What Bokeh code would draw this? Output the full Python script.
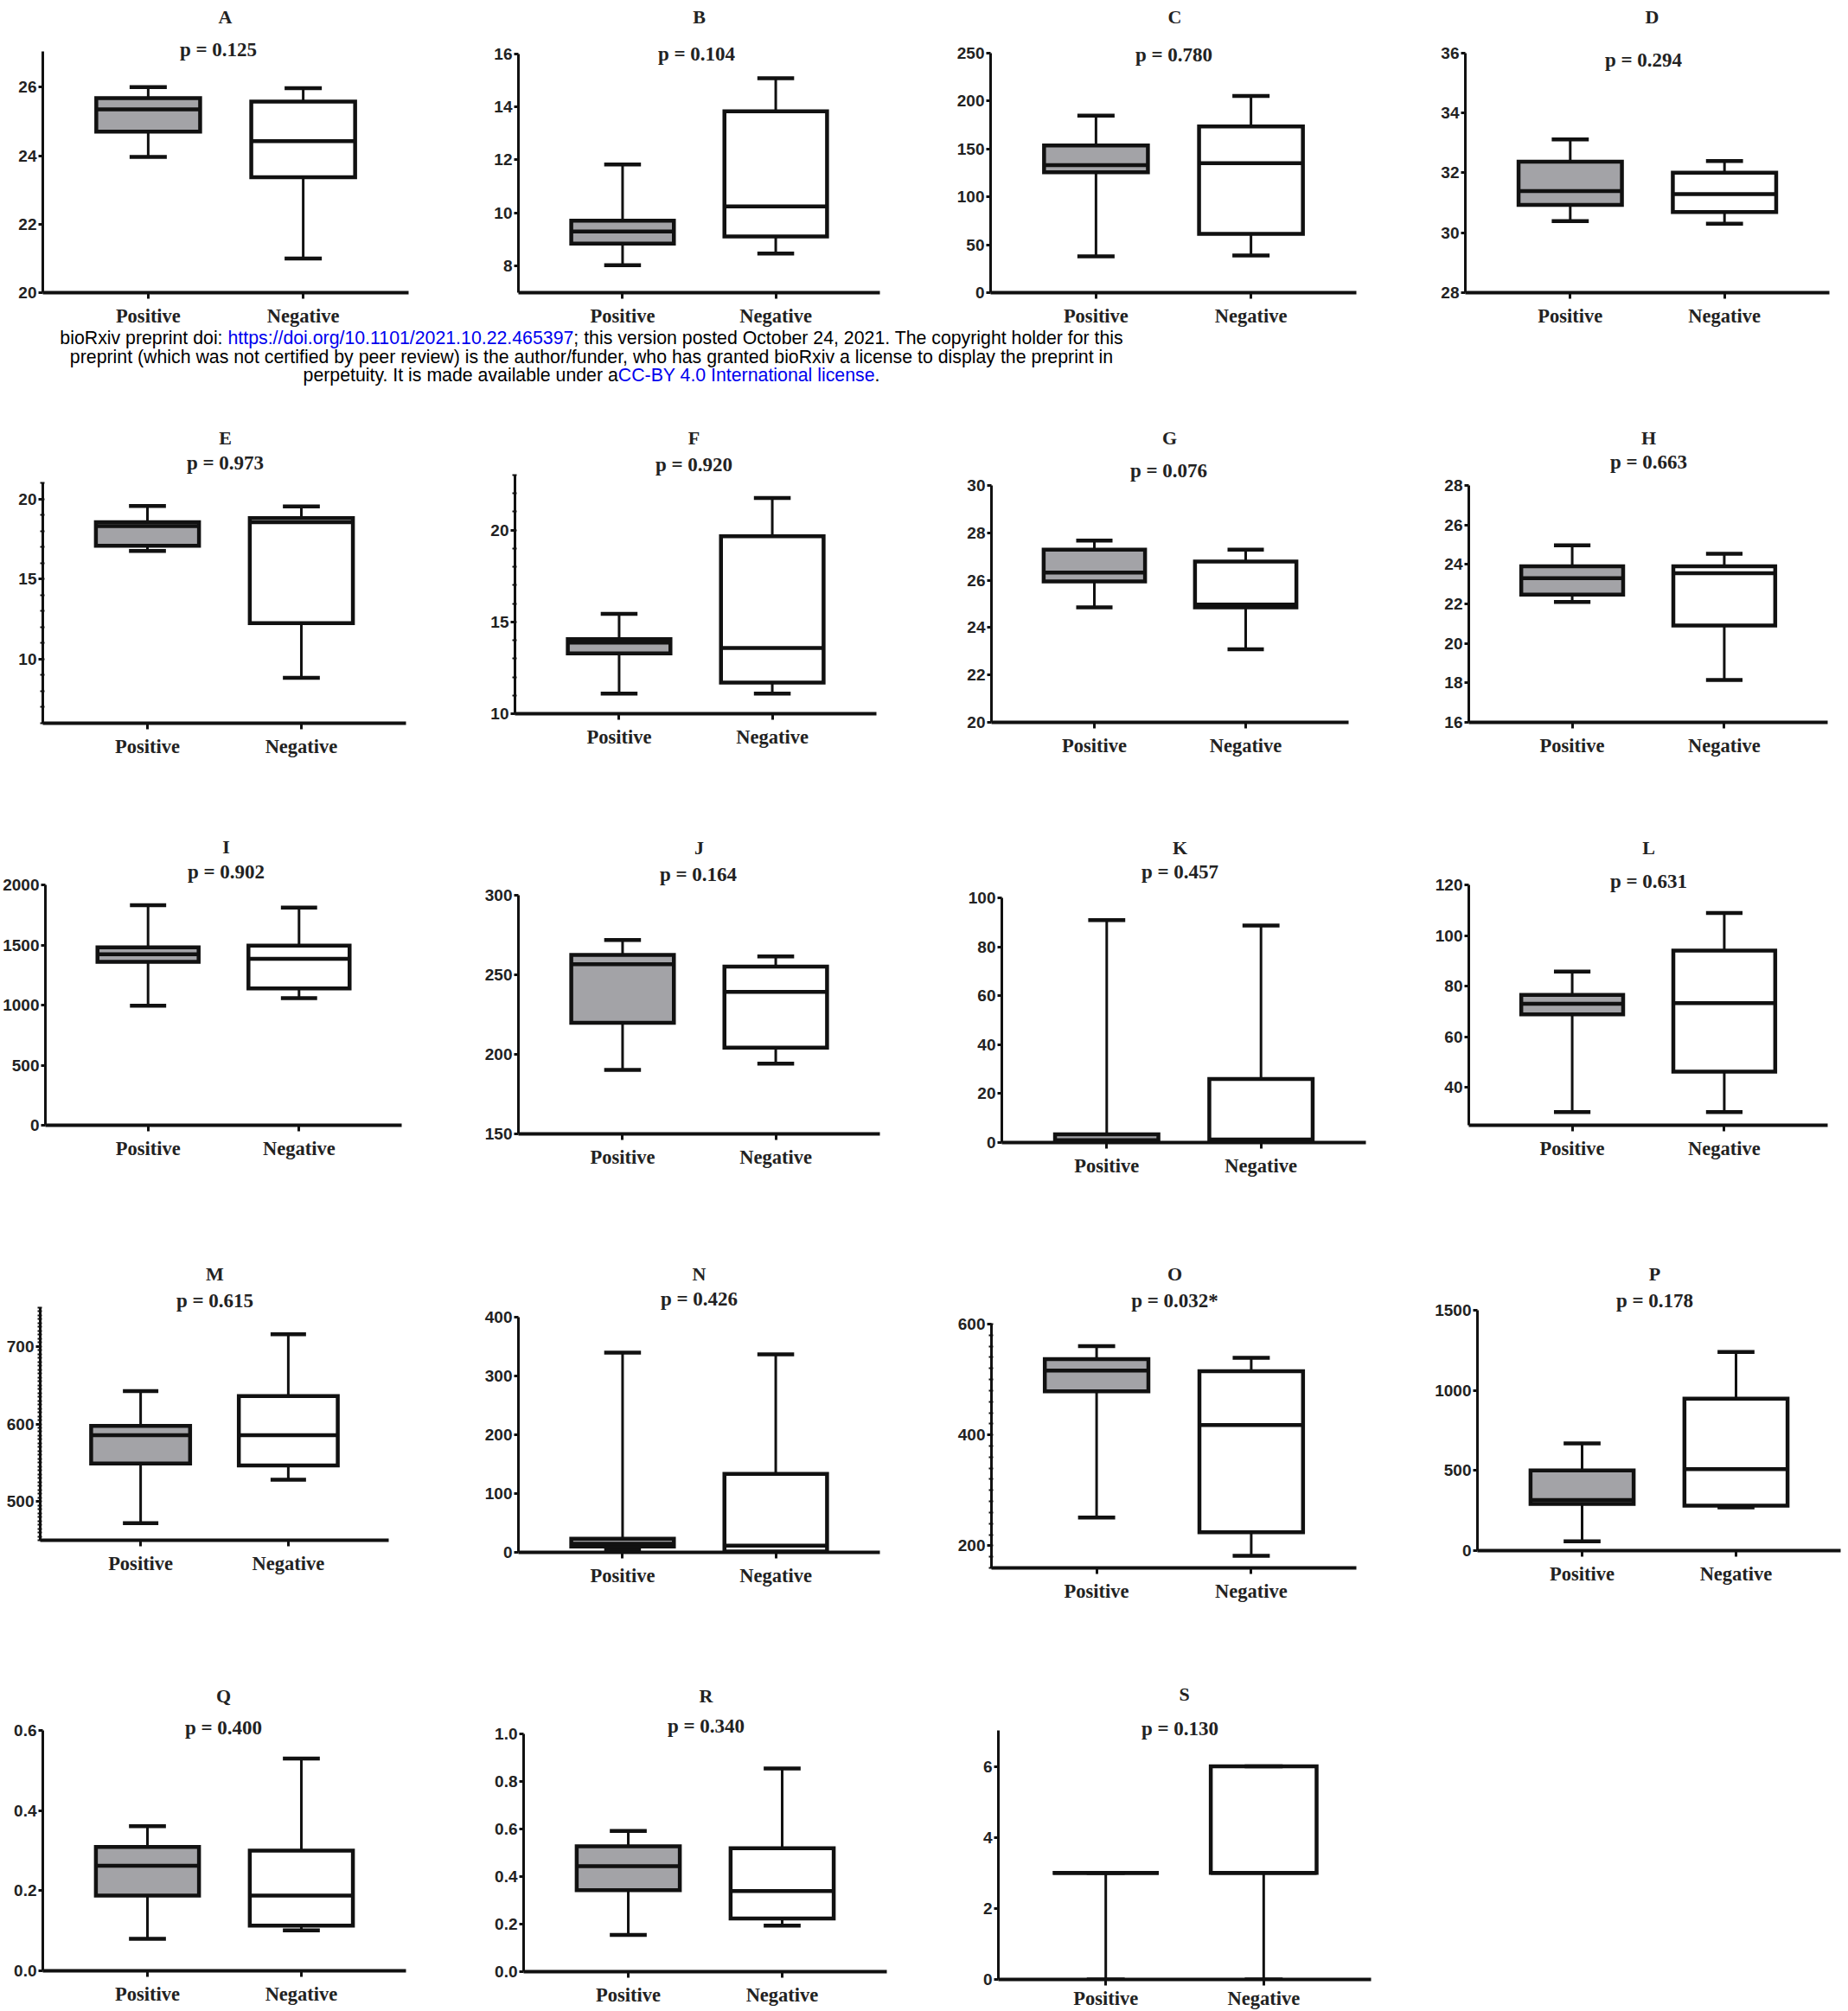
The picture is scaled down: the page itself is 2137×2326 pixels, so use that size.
from bokeh.plotting import figure
from bokeh.layouts import column, row
from bokeh.models import Range1d, FactorRange, FixedTicker, Label, Div, PrintfTickFormatter
from bokeh.embed import file_html
from bokeh.resources import INLINE

# ---------------- data ----------------
categories = ["Positive", "Negative"]
letters = list("ABCDEFGHIJKLMNOPQRS")
p_texts = ["p = 0.125", "p = 0.104", "p = 0.780", "p = 0.294",
           "p = 0.973", "p = 0.920", "p = 0.076", "p = 0.663",
           "p = 0.902", "p = 0.164", "p = 0.457", "p = 0.631",
           "p = 0.615", "p = 0.426", "p = 0.032*", "p = 0.178",
           "p = 0.400", "p = 0.340", "p = 0.130"]

# five-number summaries: [min, Q1, median, Q3, max]
A_positive = [23.96, 24.70, 25.35, 25.68, 26.00]
A_negative = [21.00, 23.37, 24.42, 25.58, 25.97]
B_positive = [8.03, 8.85, 9.30, 9.71, 11.83]
B_negative = [8.47, 9.12, 10.25, 13.83, 15.08]
C_positive = [37.9, 125.5, 133.0, 153.5, 184.5]
C_negative = [38.8, 61.2, 135.0, 173.2, 205.0]
D_positive = [30.39, 30.93, 31.39, 32.37, 33.11]
D_negative = [30.30, 30.69, 31.29, 32.00, 32.39]
E_positive = [16.75, 17.07, 18.30, 18.55, 19.55]
E_negative = [8.83, 12.25, 18.55, 18.80, 19.53]
F_positive = [11.10, 13.28, 13.87, 14.06, 15.44]
F_negative = [11.10, 11.70, 13.58, 19.67, 21.75]
G_positive = [24.85, 25.95, 26.32, 27.29, 27.67]
G_negative = [23.08, 24.85, 24.97, 26.79, 27.29]
H_positive = [22.10, 22.47, 23.30, 23.90, 24.97]
H_negative = [18.15, 20.90, 23.56, 23.90, 24.54]
I_positive = [995, 1360, 1423, 1481, 1831]
I_negative = [1058, 1138, 1384, 1495, 1812]
J_positive = [190.2, 219.9, 256.7, 262.5, 271.9]
J_negative = [194.2, 204.2, 239.3, 255.1, 261.6]
K_positive = [0.0, 0.0, 1.0, 3.4, 90.9]
K_negative = [0.0, 0.4, 1.2, 26.0, 88.7]
L_positive = [30.2, 68.8, 73.0, 76.5, 85.7]
L_negative = [30.2, 46.2, 73.3, 94.0, 108.9]
M_positive = [472, 549, 585.5, 597.4, 642.4]
M_negative = [528, 546.5, 585.5, 636, 715.6]
N_positive = [4.0, 9.8, 14.7, 23.0, 339.7]
N_negative = [0.0, 1.5, 11.3, 133.3, 336.8]
O_positive = [251, 478.6, 516, 537, 560.4]
O_negative = [181.8, 224.5, 418, 515, 539]
P_positive = [57.5, 292, 316, 501, 669]
P_negative = [270, 281, 509, 948, 1240]
Q_positive = [0.080, 0.188, 0.262, 0.309, 0.361]
Q_negative = [0.101, 0.113, 0.188, 0.300, 0.530]
R_positive = [0.155, 0.343, 0.444, 0.527, 0.592]
R_negative = [0.194, 0.224, 0.339, 0.519, 0.855]
S_positive = [0, 3, 3, 3, 3]
S_negative = [0, 3, 3, 6, 6]

positives = [A_positive, B_positive, C_positive, D_positive, E_positive, F_positive,
             G_positive, H_positive, I_positive, J_positive, K_positive, L_positive,
             M_positive, N_positive, O_positive, P_positive, Q_positive, R_positive, S_positive]
negatives = [A_negative, B_negative, C_negative, D_negative, E_negative, F_negative,
             G_negative, H_negative, I_negative, J_negative, K_negative, L_negative,
             M_negative, N_negative, O_negative, P_negative, Q_negative, R_negative, S_negative]

y_limits = [(20, 27.05), (7, 16), (0, 250), (28, 36),
            (6, 21), (10, 23), (20, 30), (16, 28),
            (0, 2000), (150, 300), (0, 100), (25, 120),
            (450, 750), (0, 400), (160, 600), (0, 1500),
            (0, 0.6), (0, 1.0), (0, 7)]
y_ticks = [[20, 22, 24, 26], [8, 10, 12, 14, 16], [0, 50, 100, 150, 200, 250], [28, 30, 32, 34, 36],
           [10, 15, 20], [10, 15, 20], [20, 22, 24, 26, 28, 30], [16, 18, 20, 22, 24, 26, 28],
           [0, 500, 1000, 1500, 2000], [150, 200, 250, 300], [0, 20, 40, 60, 80, 100], [40, 60, 80, 100, 120],
           [500, 600, 700], [0, 100, 200, 300, 400], [200, 400, 600], [0, 500, 1000, 1500],
           [0.0, 0.2, 0.4, 0.6], [0.0, 0.2, 0.4, 0.6, 0.8, 1.0], [0, 2, 4, 6]]
y_label_formats = [None] * 16 + ["%.1f", "%.1f", None]
# minor tick steps (None = no minor ticks)
minor_steps = [None, None, None, None, 1, 1, None, None, None, None, None, None,
               5, None, 20, None, None, None, None]

# ---------------- layout (page pixels) ----------------
# frame: left, right, top (y max), bottom (y min)
frames = [(49, 472, 59, 340), (599, 1017, 62, 340), (1145, 1568, 61, 340), (1694, 2115, 61, 340),
          (49, 469, 558, 836), (595, 1013, 549, 825), (1146, 1559, 561, 835), (1698, 2113, 561, 835),
          (49, 464, 1023, 1301), (599, 1017, 1035, 1311), (1158, 1579, 1038, 1321), (1698, 2113, 1023, 1301),
          (46, 449, 1512, 1781), (599, 1017, 1523, 1795), (1146, 1568, 1531, 1813), (1708, 2128, 1515, 1793),
          (49, 469, 2001, 2279), (605, 1025, 2005, 2280), (1154, 1585, 2002, 2291)]
title_pos = [(260, 21), (808, 21), (1358, 21), (1910, 21),
             (260, 506), (802, 506), (1352, 506), (1906, 506),
             (258, 979), (808, 980), (1364, 980), (1906, 980),
             (248, 1473), (808, 1473), (1358, 1473), (1913, 1473),
             (258, 1961), (816, 1961), (1369, 1961)]
ptext_pos = [(252, 59), (805, 64), (1357, 65), (1900, 71),
             (260, 535), (802, 537), (1351, 544), (1906, 534),
             (258, 1008), (807, 1011), (1364, 1008), (1906, 1019),
             (248, 1504), (808, 1502), (1358, 1504), (1913, 1504),
             (258, 1998), (816, 1996), (1364, 2001)]
x_label_standoff = [7] * 18 + [2]
col_bounds = [(0, 545), (545, 1090), (1090, 1635), (1635, 2137)]
row_bounds = [(0, 380), (450, 930), (930, 1420), (1420, 1900), (1900, 2326)]

BOX_W = 0.67
CAP_W = 0.24
POS_FILL = "#a3a3a7"
INK = "#111111"
SERIF = "Liberation Serif"
SANS = "Liberation Sans"


def make_panel(i):
    c0, c1 = col_bounds[i % 4]
    r0, r1 = row_bounds[i // 4]
    L, R, T, B = frames[i]
    ylo, yhi = y_limits[i]
    per_px = (yhi - ylo) / (B - T)
    y_end = yhi + (T - r0) * per_px  # frame runs up to the figure top; axis is bounded
    p = figure(width=c1 - c0, height=r1 - r0,
               x_range=FactorRange(factors=categories, range_padding=0.18),
               y_range=Range1d(ylo, y_end),
               min_border_left=L - c0, min_border_right=max(c1 - R, 0),
               min_border_top=0, min_border_bottom=r1 - B,
               output_backend="svg", toolbar_location=None, tools="")
    p.background_fill_color = "white"
    p.border_fill_color = "white"
    p.outline_line_color = None
    p.xgrid.grid_line_color = None
    p.ygrid.grid_line_color = None

    stats = [positives[i], negatives[i]]
    xs = [k + 0.5 for k in range(len(categories))]  # synthetic centres of the factors
    lows = [s[0] for s in stats]
    q1s = [s[1] for s in stats]
    meds = [s[2] for s in stats]
    q3s = [s[3] for s in stats]
    highs = [s[4] for s in stats]

    # whisker stems
    p.segment(x0=categories, y0=q3s, x1=categories, y1=highs, line_color=INK, line_width=3)
    p.segment(x0=categories, y0=lows, x1=categories, y1=q1s, line_color=INK, line_width=3)
    # boxes
    p.vbar(x=categories, width=BOX_W, bottom=q1s, top=q3s,
           fill_color=[POS_FILL, "white"], line_color=INK, line_width=4.5, line_join="miter")
    # medians
    p.segment(x0=[x - BOX_W / 2 for x in xs], y0=meds, x1=[x + BOX_W / 2 for x in xs], y1=meds,
              line_color=INK, line_width=4.5)
    # caps
    p.segment(x0=[x - CAP_W / 2 for x in xs], y0=highs, x1=[x + CAP_W / 2 for x in xs], y1=highs,
              line_color=INK, line_width=4.5)
    p.segment(x0=[x - CAP_W / 2 for x in xs], y0=lows, x1=[x + CAP_W / 2 for x in xs], y1=lows,
              line_color=INK, line_width=4.5)

    # y axis
    ya = p.yaxis[0]
    ya.bounds = (ylo, yhi)
    step = minor_steps[i]
    minor = []
    if step is not None:
        n = 0
        while ylo + n * step <= yhi + 1e-9:
            minor.append(round(ylo + n * step, 6))
            n += 1
    ya.ticker = FixedTicker(ticks=y_ticks[i], minor_ticks=minor)
    if y_label_formats[i]:
        ya.formatter = PrintfTickFormatter(format=y_label_formats[i])
    ya.axis_line_width = 3
    ya.axis_line_color = INK
    ya.major_tick_line_width = 3
    ya.major_tick_line_color = INK
    ya.major_tick_out = 5
    ya.major_tick_in = 0
    if step is not None:
        ya.minor_tick_line_width = 2
        ya.minor_tick_line_color = INK
        ya.minor_tick_out = 3
        ya.minor_tick_in = 2
    else:
        ya.minor_tick_line_color = None
    ya.major_label_text_font = SANS
    ya.major_label_text_font_style = "bold"
    ya.major_label_text_font_size = "19px"
    ya.major_label_text_color = "#222222"
    ya.major_label_standoff = 2

    # x axis
    xa = p.xaxis[0]
    xa.axis_line_width = 4
    xa.axis_line_color = INK
    xa.major_tick_line_width = 3
    xa.major_tick_line_color = INK
    xa.major_tick_out = 7
    xa.major_tick_in = 0
    xa.minor_tick_line_color = None
    xa.major_label_text_font = SERIF
    xa.major_label_text_font_style = "bold"
    xa.major_label_text_font_size = "22.5px"
    xa.major_label_text_color = "#222222"
    xa.major_label_standoff = x_label_standoff[i]

    tx, ty = title_pos[i]
    p.add_layout(Label(x=tx - L, y=B - ty, x_units="screen", y_units="screen",
                       text=letters[i], text_align="center", text_baseline="middle",
                       text_font=SERIF, text_font_style="bold", text_font_size="22px",
                       text_color="#222222"))
    px, py = ptext_pos[i]
    p.add_layout(Label(x=px - L, y=B - py, x_units="screen", y_units="screen",
                       text=p_texts[i], text_align="center", text_baseline="middle",
                       text_font=SERIF, text_font_style="bold", text_font_size="23px",
                       text_color="#222222"))
    return p


panels = [make_panel(i) for i in range(len(letters))]

div_top = row_bounds[0][1]
div_h = row_bounds[1][0] - div_top
notice = Div(
    text=(
        '<div style="width:1368px;font-family:\'Liberation Sans\',Arial,sans-serif;font-size:21.3px;'
        'line-height:21.5px;text-align:center;white-space:nowrap;color:#000;margin-top:1px;">'
        'bioRxiv preprint doi: <span style="color:#0000ee">https://doi.org/10.1101/2021.10.22.465397</span>;'
        ' this version posted October 24, 2021. The copyright holder for this<br>'
        'preprint (which was not certified by peer review) is the author/funder, who has granted bioRxiv'
        ' a license to display the preprint in<br>'
        'perpetuity. It is made available under a'
        '<span style="color:#0000ee">CC-BY 4.0 International license</span>.'
        '</div>'
    ),
    width=1368, height=div_h, margin=(0, 0, 0, 0))

# each panel sits in its own column so that frames are not aligned across a row
cells = [column(p) for p in panels]
rows = [row(*cells[k:k + 4]) for k in range(0, len(cells), 4)]
layout = column(rows[0], notice, *rows[1:])

open("out.html", "w").write(file_html(layout, INLINE))
